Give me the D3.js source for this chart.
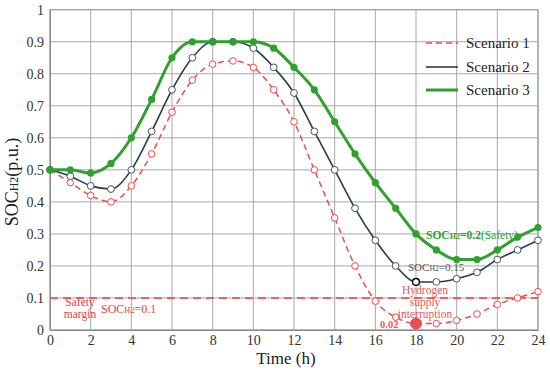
<!DOCTYPE html>
<html><head><meta charset="utf-8">
<script src="https://cdn.jsdelivr.net/npm/d3@7"></script>
<style>body{margin:0;background:#fff}svg{display:block}</style>
</head><body><svg id="c" width="550" height="370"></svg>
<script>
const hours = d3.range(0, 25);
const scenario1 = [0.50,0.46,0.42,0.40,0.45,0.55,0.68,0.78,0.83,0.84,0.82,0.75,0.65,0.50,0.35,0.20,0.09,0.04,0.02,0.02,0.03,0.05,0.08,0.10,0.12];
const scenario2 = [0.50,0.48,0.45,0.44,0.50,0.62,0.75,0.85,0.90,0.90,0.88,0.82,0.74,0.62,0.50,0.38,0.28,0.20,0.15,0.15,0.16,0.18,0.22,0.25,0.28];
const scenario3 = [0.50,0.50,0.49,0.52,0.60,0.72,0.85,0.90,0.90,0.90,0.90,0.88,0.82,0.75,0.65,0.55,0.46,0.38,0.30,0.25,0.22,0.22,0.25,0.29,0.32];
const xTicks = [0,2,4,6,8,10,12,14,16,18,20,22,24];
const yTicks = [0,0.1,0.2,0.3,0.4,0.5,0.6,0.7,0.8,0.9,1];
const yTickLabels = ["0","0.1","0.2","0.3","0.4","0.5","0.6","0.7","0.8","0.9","1"];
const seriesNames = ["Scenario 1","Scenario 2","Scenario 3"];
const safetyLevel = 0.1;
const interruptionHour = 18;

const svg = d3.select("#c");
const L=50, R=538, T=9.7, B=330;
const x = d3.scaleLinear().domain([0,24]).range([L,R]);
const y = d3.scaleLinear().domain([0,1]).range([B,T]);
const grid = "#a8a8a8";

svg.append("g").selectAll("line").data(xTicks).join("line")
  .attr("x1",d=>x(d)).attr("x2",d=>x(d)).attr("y1",T).attr("y2",B)
  .attr("stroke",grid).attr("stroke-width",1);
svg.append("g").selectAll("line").data(yTicks).join("line")
  .attr("x1",L).attr("x2",R).attr("y1",d=>y(d)).attr("y2",d=>y(d))
  .attr("stroke",grid).attr("stroke-width",1);
svg.append("rect").attr("x",L).attr("y",T).attr("width",R-L).attr("height",B-T)
  .attr("fill","none").attr("stroke","#999").attr("stroke-width",1);

const xa = svg.append("g").attr("transform",`translate(0,${B})`)
  .call(d3.axisBottom(x).tickValues(xTicks).tickSize(0).tickPadding(5).tickFormat(d3.format("d")));
xa.select(".domain").attr("stroke","#888");
xa.selectAll("text").attr("font-size",14).attr("fill","#333");
const ya = svg.append("g").attr("transform",`translate(${L},0)`)
  .call(d3.axisLeft(y).tickValues(yTicks).tickSize(0).tickPadding(6).tickFormat((d,i)=>yTickLabels[i]));
ya.select(".domain").attr("stroke","#888");
ya.selectAll("text").attr("font-size",14).attr("fill","#333");

svg.append("text").attr("x",286).attr("y",364).attr("text-anchor","middle")
  .attr("font-size",17).attr("fill","#222").text("Time (h)");
const yl = svg.append("text").attr("transform","translate(18,182) rotate(-90)").attr("text-anchor","middle")
  .attr("font-size",18).attr("fill","#222");
yl.append("tspan").text("SOC");
yl.append("tspan").attr("font-size",12).text("H2");
yl.append("tspan").text("(p.u.)");

svg.append("line").attr("x1",L).attr("x2",R).attr("y1",y(safetyLevel)).attr("y2",y(safetyLevel))
  .attr("stroke","#ff3b3b").attr("stroke-width",1.6).attr("stroke-dasharray","8,5");

const line = d3.line().x((d,i)=>x(hours[i])).y(d=>y(d)).curve(d3.curveMonotoneX);
const red="#ee4b4b", navy="#2d3b4f", green="#2ea12e";

svg.append("path").attr("d",line(scenario1)).attr("fill","none").attr("stroke",red)
  .attr("stroke-width",1.5).attr("stroke-dasharray","6,4");
svg.append("path").attr("d",line(scenario2)).attr("fill","none").attr("stroke",navy).attr("stroke-width",1.6);
svg.append("path").attr("d",line(scenario3)).attr("fill","none").attr("stroke",green).attr("stroke-width",3);

svg.append("g").selectAll("circle").data(scenario1).join("circle")
  .attr("cx",(d,i)=>x(hours[i])).attr("cy",d=>y(d)).attr("r",(d,i)=>hours[i]===interruptionHour?5.5:3.3)
  .attr("fill",(d,i)=>hours[i]===interruptionHour?"#e55050":"#fff").attr("stroke",red).attr("stroke-width",1);
svg.append("g").selectAll("circle").data(scenario2).join("circle")
  .attr("cx",(d,i)=>x(hours[i])).attr("cy",d=>y(d)).attr("r",3.4)
  .attr("fill","#fff").attr("stroke",(d,i)=>hours[i]===interruptionHour?"#000":"#445566").attr("stroke-width",(d,i)=>hours[i]===interruptionHour?1.4:1);
svg.append("g").selectAll("circle").data(scenario3).join("circle")
  .attr("cx",(d,i)=>x(hours[i])).attr("cy",d=>y(d)).attr("r",3.6).attr("fill",green);

const lg = [{c:red,w:1.5,dash:"6,4"},{c:navy,w:1.6,dash:null},{c:green,w:3,dash:null}];
const legY=[43,67,90];
lg.forEach((s,i)=>{
  svg.append("line").attr("x1",426).attr("x2",458).attr("y1",legY[i]).attr("y2",legY[i])
    .attr("stroke",s.c).attr("stroke-width",s.w).attr("stroke-dasharray",s.dash);
  svg.append("text").attr("x",466).attr("y",legY[i]+4.5).attr("font-size",15).attr("fill","#222").text(seriesNames[i]);
});

function soc(xx, yy, fs, col, rest, weight){
  const tx = svg.append("text").attr("x",xx).attr("y",yy).attr("font-size",fs).attr("fill",col).attr("font-weight",weight||"normal");
  tx.append("tspan").text("SOC");
  tx.append("tspan").attr("font-size",fs*0.7).text("H2");
  tx.append("tspan").text(rest);
  return tx;
}
svg.append("text").attr("x",80).attr("y",306).attr("text-anchor","middle").attr("font-size",11.5).attr("fill","#f03c3c").text("Safety");
svg.append("text").attr("x",80).attr("y",318).attr("text-anchor","middle").attr("font-size",11.5).attr("fill","#f03c3c").text("margin");
soc(101,313,12,"#f03c3c","=0.1");
const g2 = soc(426,239,11.5,green,"=0.2","bold");
g2.append("tspan").attr("font-weight","normal").text("(Safety)");
soc(408,271,11,"#555","=0.15");
["Hydrogen","supply","interruption"].forEach((t,i)=>{
  svg.append("text").attr("x",425).attr("y",294+i*12).attr("text-anchor","middle").attr("font-size",11.5).attr("fill","#ee5555").text(t);
});
svg.append("text").attr("x",380).attr("y",328).attr("font-size",10.5).attr("font-weight","bold").attr("fill","#ee5555").text("0.02");

svg.selectAll("text").style("font-family","'Liberation Serif','Times New Roman',serif");
svg.selectAll("g").attr("font-family",null);
</script></body></html>
